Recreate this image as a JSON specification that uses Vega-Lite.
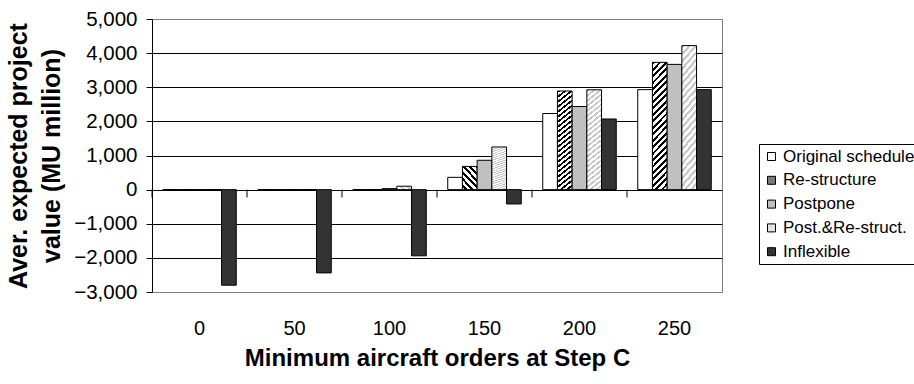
{
  "$schema": "https://vega.github.io/schema/vega-lite/v6.json",
  "width": 570,
  "height": 273,
  "autosize": "none",
  "padding": {"left": 152, "top": 19, "right": 192, "bottom": 92},
  "background": "white",
  "config": {
    "font": "Liberation Sans",
    "view": {"stroke": "#808080", "strokeWidth": 1},
    "axis": {"labelFont": "Liberation Sans", "titleFont": "Liberation Sans", "labelColor": "#000", "titleColor": "#000"}
  },
  "data": {
    "values": [
      {"orders": "0", "series": "Original schedule", "value": 0},
      {"orders": "0", "series": "Re-structure", "value": 0},
      {"orders": "0", "series": "Postpone", "value": 0},
      {"orders": "0", "series": "Post.&Re-struct.", "value": 0},
      {"orders": "0", "series": "Inflexible", "value": -2800},
      {"orders": "50", "series": "Original schedule", "value": 0},
      {"orders": "50", "series": "Re-structure", "value": 0},
      {"orders": "50", "series": "Postpone", "value": 0},
      {"orders": "50", "series": "Post.&Re-struct.", "value": 0},
      {"orders": "50", "series": "Inflexible", "value": -2440},
      {"orders": "100", "series": "Original schedule", "value": 0},
      {"orders": "100", "series": "Re-structure", "value": 0},
      {"orders": "100", "series": "Postpone", "value": 30},
      {"orders": "100", "series": "Post.&Re-struct.", "value": 100},
      {"orders": "100", "series": "Inflexible", "value": -1940},
      {"orders": "150", "series": "Original schedule", "value": 360},
      {"orders": "150", "series": "Re-structure", "value": 680},
      {"orders": "150", "series": "Postpone", "value": 860},
      {"orders": "150", "series": "Post.&Re-struct.", "value": 1250},
      {"orders": "150", "series": "Inflexible", "value": -420},
      {"orders": "200", "series": "Original schedule", "value": 2230},
      {"orders": "200", "series": "Re-structure", "value": 2890},
      {"orders": "200", "series": "Postpone", "value": 2435},
      {"orders": "200", "series": "Post.&Re-struct.", "value": 2925},
      {"orders": "200", "series": "Inflexible", "value": 2070},
      {"orders": "250", "series": "Original schedule", "value": 2930},
      {"orders": "250", "series": "Re-structure", "value": 3730},
      {"orders": "250", "series": "Postpone", "value": 3670},
      {"orders": "250", "series": "Post.&Re-struct.", "value": 4220},
      {"orders": "250", "series": "Inflexible", "value": 2930}
    ]
  },
  "resolve": {"axis": {"y": "independent"}},
  "encoding": {
    "x": {
      "field": "orders",
      "type": "ordinal",
      "sort": ["0", "50", "100", "150", "200", "250"],
      "scale": {"paddingInner": 0, "paddingOuter": 0},
      "axis": {
        "domain": false,
        "ticks": false,
        "grid": false,
        "labelAngle": 0,
        "labelFontSize": 20,
        "labelPadding": 26,
        "title": "Minimum aircraft orders at Step C",
        "titleFontSize": 24,
        "titleFontWeight": "bold",
        "titlePadding": 8
      }
    }
  },
  "layer": [
    {
      "mark": {"type": "bar", "stroke": "#000", "strokeWidth": 1},
      "encoding": {
        "xOffset": {
          "field": "series",
          "type": "nominal",
          "sort": ["Original schedule", "Re-structure", "Postpone", "Post.&Re-struct.", "Inflexible"],
          "scale": {"paddingInner": 0, "paddingOuter": 0.73}
        },
        "y": {
          "field": "value",
          "type": "quantitative",
          "scale": {"domain": [-3000, 5000], "nice": false, "zero": false},
          "axis": {
            "values": [-3000, -2000, -1000, 0, 1000, 2000, 3000, 4000, 5000],
            "format": ",d",
            "labelOverlap": false,
            "grid": true,
            "gridColor": {"condition": {"test": "datum.value === 5000 || datum.value === -3000", "value": "#808080"}, "value": "#000000"},
            "gridWidth": 1,
            "domainColor": "#000",
            "tickColor": "#000",
            "tickSize": 6,
            "labelFontSize": 20.5,
            "labelPadding": 9,
            "title": ["Aver. expected project", "value (MU million)"],
            "titleFontSize": 25,
            "titleFontWeight": "bold",
            "titleLineHeight": 33,
            "titlePadding": 9
          }
        },
        "fill": {
          "field": "series",
          "type": "nominal",
          "scale": {
            "domain": ["Original schedule", "Re-structure", "Postpone", "Post.&Re-struct.", "Inflexible"],
            "range": ["#ffffff", "#7a7a7a", "#c0c0c0", "#e4e4e4", "#333333"]
          },
          "legend": {
            "orient": "none",
            "legendX": 607,
            "legendY": 125,
            "title": null,
            "strokeColor": "#000",
            "padding": 4,
            "labelFontSize": 17,
            "labelFont": "Liberation Sans",
            "labelColor": "#000",
            "labelLimit": 0,
            "labelOffset": 3,
            "symbolType": "square",
            "symbolSize": 64,
            "symbolStrokeColor": "#000",
            "symbolStrokeWidth": 1,
            "rowPadding": 5.8
          },
          "condition": [
            {
              "test": "datum.series === 'Re-structure'",
              "value": {
                "gradient": "linear", "x1": 0, "y1": 0, "x2": 0.13, "y2": 1.1,
                "stops": [
                  {"offset": 0, "color": "#000"}, {"offset": 0.02045, "color": "#000"}, {"offset": 0.02045, "color": "#fff"}, {"offset": 0.04545, "color": "#fff"},
                  {"offset": 0.04545, "color": "#000"}, {"offset": 0.06591, "color": "#000"}, {"offset": 0.06591, "color": "#fff"}, {"offset": 0.09091, "color": "#fff"},
                  {"offset": 0.09091, "color": "#000"}, {"offset": 0.11136, "color": "#000"}, {"offset": 0.11136, "color": "#fff"}, {"offset": 0.13636, "color": "#fff"},
                  {"offset": 0.13636, "color": "#000"}, {"offset": 0.15682, "color": "#000"}, {"offset": 0.15682, "color": "#fff"}, {"offset": 0.18182, "color": "#fff"},
                  {"offset": 0.18182, "color": "#000"}, {"offset": 0.20227, "color": "#000"}, {"offset": 0.20227, "color": "#fff"}, {"offset": 0.22727, "color": "#fff"},
                  {"offset": 0.22727, "color": "#000"}, {"offset": 0.24773, "color": "#000"}, {"offset": 0.24773, "color": "#fff"}, {"offset": 0.27273, "color": "#fff"},
                  {"offset": 0.27273, "color": "#000"}, {"offset": 0.29318, "color": "#000"}, {"offset": 0.29318, "color": "#fff"}, {"offset": 0.31818, "color": "#fff"},
                  {"offset": 0.31818, "color": "#000"}, {"offset": 0.33864, "color": "#000"}, {"offset": 0.33864, "color": "#fff"}, {"offset": 0.36364, "color": "#fff"},
                  {"offset": 0.36364, "color": "#000"}, {"offset": 0.38409, "color": "#000"}, {"offset": 0.38409, "color": "#fff"}, {"offset": 0.40909, "color": "#fff"},
                  {"offset": 0.40909, "color": "#000"}, {"offset": 0.42955, "color": "#000"}, {"offset": 0.42955, "color": "#fff"}, {"offset": 0.45455, "color": "#fff"},
                  {"offset": 0.45455, "color": "#000"}, {"offset": 0.475, "color": "#000"}, {"offset": 0.475, "color": "#fff"}, {"offset": 0.5, "color": "#fff"},
                  {"offset": 0.5, "color": "#000"}, {"offset": 0.52045, "color": "#000"}, {"offset": 0.52045, "color": "#fff"}, {"offset": 0.54545, "color": "#fff"},
                  {"offset": 0.54545, "color": "#000"}, {"offset": 0.56591, "color": "#000"}, {"offset": 0.56591, "color": "#fff"}, {"offset": 0.59091, "color": "#fff"},
                  {"offset": 0.59091, "color": "#000"}, {"offset": 0.61136, "color": "#000"}, {"offset": 0.61136, "color": "#fff"}, {"offset": 0.63636, "color": "#fff"},
                  {"offset": 0.63636, "color": "#000"}, {"offset": 0.65682, "color": "#000"}, {"offset": 0.65682, "color": "#fff"}, {"offset": 0.68182, "color": "#fff"},
                  {"offset": 0.68182, "color": "#000"}, {"offset": 0.70227, "color": "#000"}, {"offset": 0.70227, "color": "#fff"}, {"offset": 0.72727, "color": "#fff"},
                  {"offset": 0.72727, "color": "#000"}, {"offset": 0.74773, "color": "#000"}, {"offset": 0.74773, "color": "#fff"}, {"offset": 0.77273, "color": "#fff"},
                  {"offset": 0.77273, "color": "#000"}, {"offset": 0.79318, "color": "#000"}, {"offset": 0.79318, "color": "#fff"}, {"offset": 0.81818, "color": "#fff"},
                  {"offset": 0.81818, "color": "#000"}, {"offset": 0.83864, "color": "#000"}, {"offset": 0.83864, "color": "#fff"}, {"offset": 0.86364, "color": "#fff"},
                  {"offset": 0.86364, "color": "#000"}, {"offset": 0.88409, "color": "#000"}, {"offset": 0.88409, "color": "#fff"}, {"offset": 0.90909, "color": "#fff"},
                  {"offset": 0.90909, "color": "#000"}, {"offset": 0.92955, "color": "#000"}, {"offset": 0.92955, "color": "#fff"}, {"offset": 0.95455, "color": "#fff"},
                  {"offset": 0.95455, "color": "#000"}, {"offset": 0.975, "color": "#000"}, {"offset": 0.975, "color": "#fff"}, {"offset": 1, "color": "#fff"}
                ]
              }
            },
            {
              "test": "datum.series === 'Post.&Re-struct.'",
              "value": {
                "gradient": "linear", "x1": 0, "y1": 0, "x2": 0.13, "y2": 1.1,
                "stops": [
                  {"offset": 0, "color": "#c8c8c8"}, {"offset": 0.02045, "color": "#c8c8c8"}, {"offset": 0.02045, "color": "#fff"}, {"offset": 0.04545, "color": "#fff"},
                  {"offset": 0.04545, "color": "#c8c8c8"}, {"offset": 0.06591, "color": "#c8c8c8"}, {"offset": 0.06591, "color": "#fff"}, {"offset": 0.09091, "color": "#fff"},
                  {"offset": 0.09091, "color": "#c8c8c8"}, {"offset": 0.11136, "color": "#c8c8c8"}, {"offset": 0.11136, "color": "#fff"}, {"offset": 0.13636, "color": "#fff"},
                  {"offset": 0.13636, "color": "#c8c8c8"}, {"offset": 0.15682, "color": "#c8c8c8"}, {"offset": 0.15682, "color": "#fff"}, {"offset": 0.18182, "color": "#fff"},
                  {"offset": 0.18182, "color": "#c8c8c8"}, {"offset": 0.20227, "color": "#c8c8c8"}, {"offset": 0.20227, "color": "#fff"}, {"offset": 0.22727, "color": "#fff"},
                  {"offset": 0.22727, "color": "#c8c8c8"}, {"offset": 0.24773, "color": "#c8c8c8"}, {"offset": 0.24773, "color": "#fff"}, {"offset": 0.27273, "color": "#fff"},
                  {"offset": 0.27273, "color": "#c8c8c8"}, {"offset": 0.29318, "color": "#c8c8c8"}, {"offset": 0.29318, "color": "#fff"}, {"offset": 0.31818, "color": "#fff"},
                  {"offset": 0.31818, "color": "#c8c8c8"}, {"offset": 0.33864, "color": "#c8c8c8"}, {"offset": 0.33864, "color": "#fff"}, {"offset": 0.36364, "color": "#fff"},
                  {"offset": 0.36364, "color": "#c8c8c8"}, {"offset": 0.38409, "color": "#c8c8c8"}, {"offset": 0.38409, "color": "#fff"}, {"offset": 0.40909, "color": "#fff"},
                  {"offset": 0.40909, "color": "#c8c8c8"}, {"offset": 0.42955, "color": "#c8c8c8"}, {"offset": 0.42955, "color": "#fff"}, {"offset": 0.45455, "color": "#fff"},
                  {"offset": 0.45455, "color": "#c8c8c8"}, {"offset": 0.475, "color": "#c8c8c8"}, {"offset": 0.475, "color": "#fff"}, {"offset": 0.5, "color": "#fff"},
                  {"offset": 0.5, "color": "#c8c8c8"}, {"offset": 0.52045, "color": "#c8c8c8"}, {"offset": 0.52045, "color": "#fff"}, {"offset": 0.54545, "color": "#fff"},
                  {"offset": 0.54545, "color": "#c8c8c8"}, {"offset": 0.56591, "color": "#c8c8c8"}, {"offset": 0.56591, "color": "#fff"}, {"offset": 0.59091, "color": "#fff"},
                  {"offset": 0.59091, "color": "#c8c8c8"}, {"offset": 0.61136, "color": "#c8c8c8"}, {"offset": 0.61136, "color": "#fff"}, {"offset": 0.63636, "color": "#fff"},
                  {"offset": 0.63636, "color": "#c8c8c8"}, {"offset": 0.65682, "color": "#c8c8c8"}, {"offset": 0.65682, "color": "#fff"}, {"offset": 0.68182, "color": "#fff"},
                  {"offset": 0.68182, "color": "#c8c8c8"}, {"offset": 0.70227, "color": "#c8c8c8"}, {"offset": 0.70227, "color": "#fff"}, {"offset": 0.72727, "color": "#fff"},
                  {"offset": 0.72727, "color": "#c8c8c8"}, {"offset": 0.74773, "color": "#c8c8c8"}, {"offset": 0.74773, "color": "#fff"}, {"offset": 0.77273, "color": "#fff"},
                  {"offset": 0.77273, "color": "#c8c8c8"}, {"offset": 0.79318, "color": "#c8c8c8"}, {"offset": 0.79318, "color": "#fff"}, {"offset": 0.81818, "color": "#fff"},
                  {"offset": 0.81818, "color": "#c8c8c8"}, {"offset": 0.83864, "color": "#c8c8c8"}, {"offset": 0.83864, "color": "#fff"}, {"offset": 0.86364, "color": "#fff"},
                  {"offset": 0.86364, "color": "#c8c8c8"}, {"offset": 0.88409, "color": "#c8c8c8"}, {"offset": 0.88409, "color": "#fff"}, {"offset": 0.90909, "color": "#fff"},
                  {"offset": 0.90909, "color": "#c8c8c8"}, {"offset": 0.92955, "color": "#c8c8c8"}, {"offset": 0.92955, "color": "#fff"}, {"offset": 0.95455, "color": "#fff"},
                  {"offset": 0.95455, "color": "#c8c8c8"}, {"offset": 0.975, "color": "#c8c8c8"}, {"offset": 0.975, "color": "#fff"}, {"offset": 1, "color": "#fff"}
                ]
              }
            }
          ]
        }
      }
    },
    {
      "transform": [{"filter": "datum.series === 'Original schedule'"}],
      "mark": {"type": "rule", "color": "#000", "strokeWidth": 1},
      "encoding": {
        "x": {"field": "orders", "type": "ordinal", "sort": ["0", "50", "100", "150", "200", "250"], "bandPosition": 0},
        "y": {"datum": 0, "type": "quantitative", "axis": null},
        "y2": {"datum": -230}
      }
    }
  ]
}
